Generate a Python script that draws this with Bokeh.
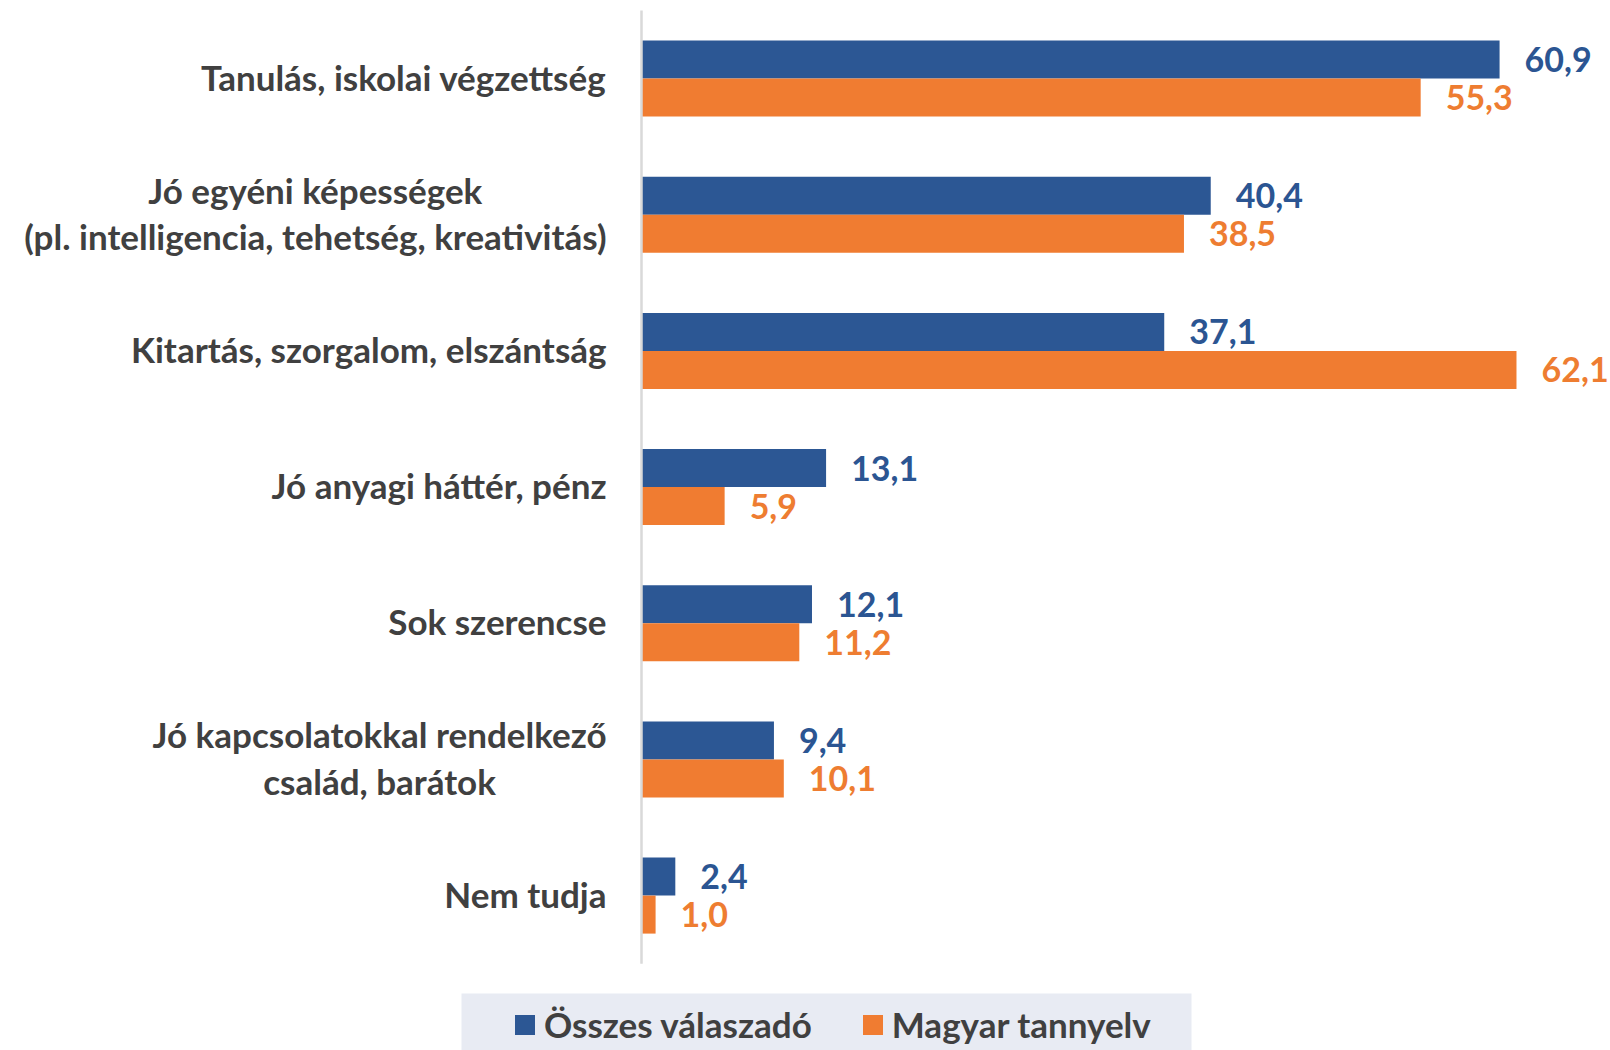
from bokeh.plotting import figure
from bokeh.models import ColumnDataSource, Range1d, Legend, LegendItem, BoxAnnotation
from bokeh.transform import dodge
from bokeh.core.properties import value
from bokeh.embed import file_html
from bokeh.resources import INLINE

# ---- data ----
categories = [
    "Tanulás, iskolai végzettség",
    "Jó egyéni képességek\n(pl. intelligencia, tehetség, kreativitás)",
    "Kitartás, szorgalom, elszántság",
    "Jó anyagi háttér, pénz",
    "Sok szerencse",
    "Jó kapcsolatokkal rendelkező\ncsalád, barátok",
    "Nem tudja",
]
osszes = [60.9, 40.4, 37.1, 13.1, 12.1, 9.4, 2.4]
magyar = [55.3, 38.5, 62.1, 5.9, 11.2, 10.1, 1.0]
series_names = ["Összes válaszadó", "Magyar tannyelv"]

BLUE = "#2C5794"
ORANGE = "#F07C31"
LBL_BLUE = "#2B5592"
LBL_ORANGE = "#EE7D31"
TXT = "#404040"
FONT = "Lato"

W, H = 1610, 1050
px_per_unit = 14.09
zero_px = 641
cat_px = 136.17
top_px = 10

src = ColumnDataSource(dict(
    idx=list(range(len(categories))),
    cat=categories,
    osszes=osszes,
    magyar=magyar,
    osszes_lbl=[f"{v:.1f}".replace(".", ",") for v in osszes],
    magyar_lbl=[f"{v:.1f}".replace(".", ",") for v in magyar],
))

y_top = -0.5 - top_px / cat_px
y_bottom = y_top + H / cat_px

p = figure(width=W, height=H, output_backend="svg", toolbar_location=None,
           x_range=Range1d(-zero_px / px_per_unit, (W - zero_px) / px_per_unit),
           y_range=Range1d(y_bottom, y_top),
           x_axis_location=None, y_axis_location=None,
           min_border=0, outline_line_color=None)
p.min_border_left = p.min_border_right = p.min_border_top = p.min_border_bottom = 0
p.grid.visible = False

bh = 0.279
r1 = p.hbar(y=dodge("idx", -bh / 2), right="osszes", left=0, height=bh,
            fill_color=BLUE, line_color=None, source=src)
r2 = p.hbar(y=dodge("idx", bh / 2), right="magyar", left=0, height=bh,
            fill_color=ORANGE, line_color=None, source=src)

# axis line
p.segment(x0=0, x1=0, y0=-0.5, y1=len(categories) - 0.5, line_color="#D9D9D9", line_width=2.5)

# value labels
p.text(x="osszes", y=dodge("idx", -bh / 2), text="osszes_lbl", x_offset=25,
       text_align="left", text_baseline="middle", text_font=value(FONT),
       text_font_style="bold", text_font_size="34px", text_color=LBL_BLUE, source=src)
p.text(x="magyar", y=dodge("idx", bh / 2), text="magyar_lbl", x_offset=25,
       text_align="left", text_baseline="middle", text_font=value(FONT),
       text_font_style="bold", text_font_size="34px", text_color=LBL_ORANGE, source=src)

# category labels
p.text(x=0, y="idx", text="cat", x_offset=-35, y_offset=-2, anchor="center_right",
       text_align="center", text_baseline="middle", text_font=value(FONT),
       text_font_style="bold", text_font_size="35px", text_color=TXT,
       text_line_height=1.1, source=src)

# legend background (screen units, y measured from the bottom)
p.add_layout(BoxAnnotation(left=461, right=1191, top=57, bottom=-10,
                           left_units="screen", right_units="screen",
                           top_units="screen", bottom_units="screen",
                           fill_color="#E8EBF3", fill_alpha=1.0, line_color=None,
                           level="annotation"))

legend = Legend(items=[LegendItem(label=series_names[0], renderers=[r1]),
                       LegendItem(label=series_names[1], renderers=[r2])],
                orientation="horizontal", location=(512, 5),
                background_fill_alpha=0, border_line_color=None,
                padding=0, margin=0, spacing=48,
                glyph_width=25, glyph_height=25, label_standoff=7,
                label_text_font=FONT, label_text_font_style="bold",
                label_text_font_size="35px", label_text_color=TXT,
                label_height=40)
p.add_layout(legend)

open("out.html", "w").write(file_html(p, INLINE))
